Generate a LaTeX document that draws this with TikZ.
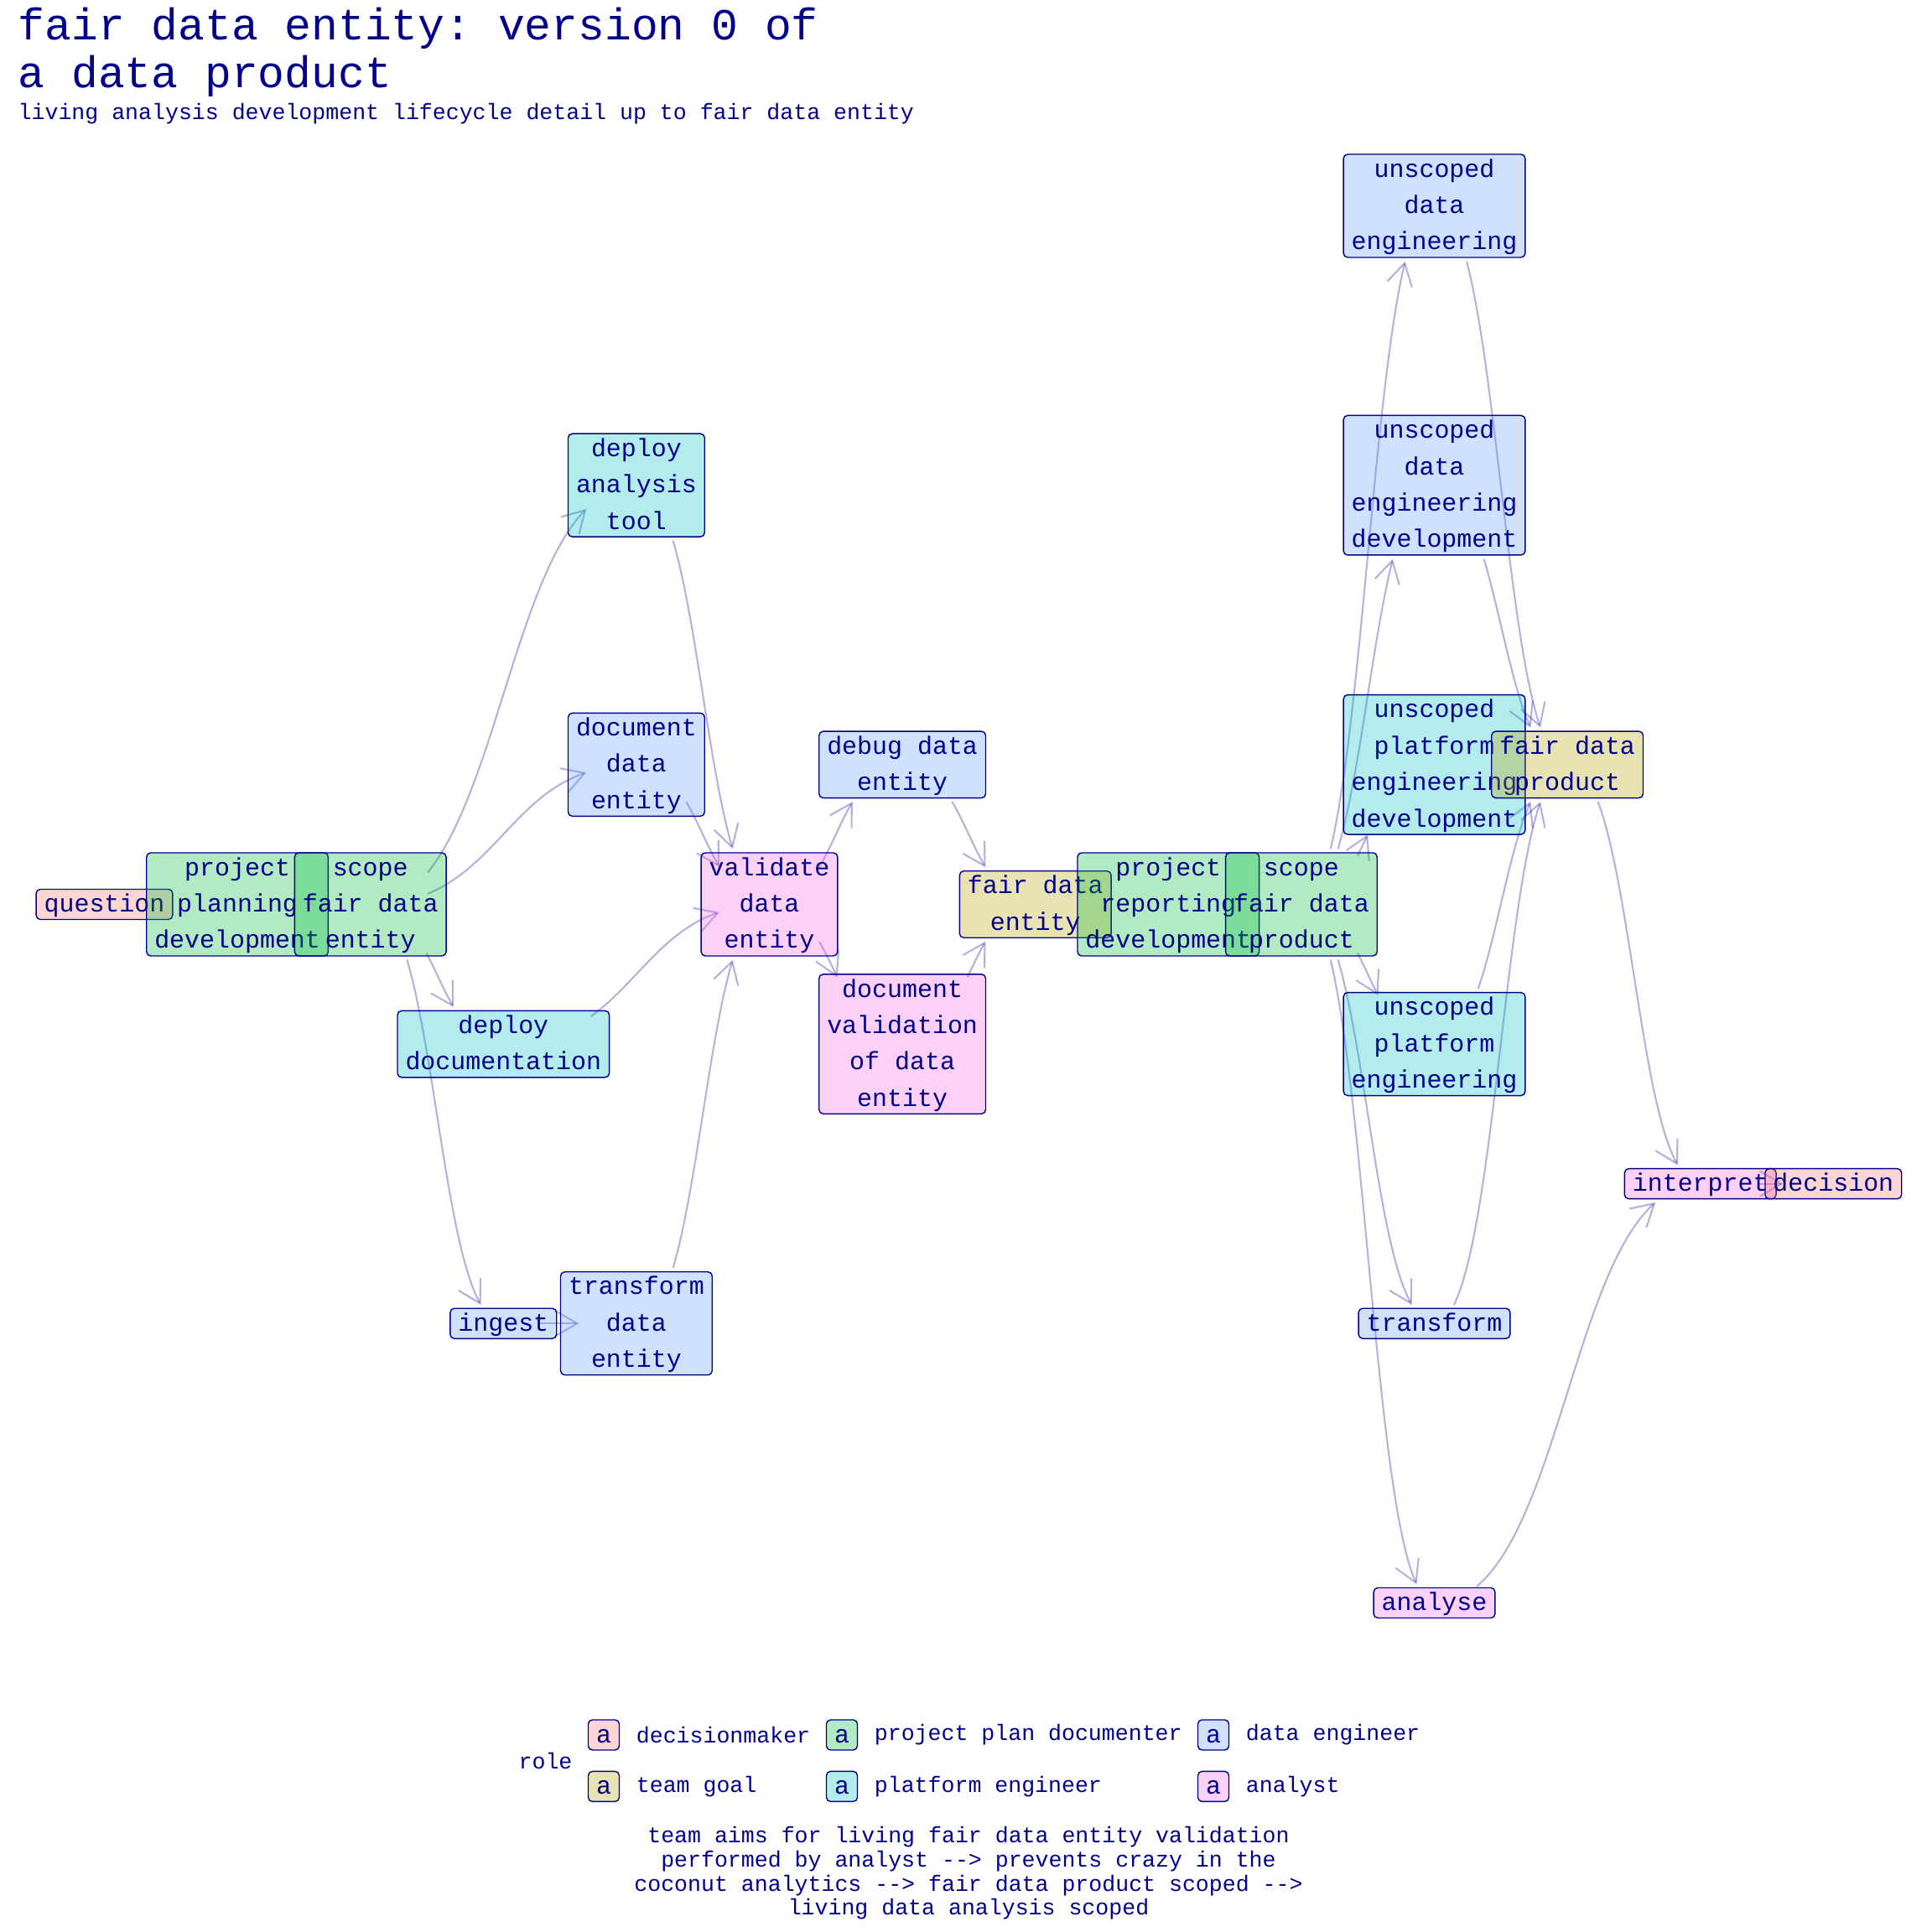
\documentclass[tikz,border=0pt]{standalone}
\usepackage{fontspec}
\setmonofont{Liberation Mono}
\usetikzlibrary{arrows.meta,positioning,calc}
\definecolor{navyink}{RGB}{0,0,139}
\definecolor{huered}{HTML}{F8766D}
\definecolor{hueolive}{HTML}{B79F00}
\definecolor{huegreen}{HTML}{00BA38}
\definecolor{huecyan}{HTML}{00BFC4}
\definecolor{hueblue}{HTML}{619CFF}
\definecolor{huepink}{HTML}{F564E3}
\pgfdeclarelayer{background}
\pgfsetlayers{background,main}

% struts for the first and the last line of a label
\newcommand\upst{\rule{0pt}{7.7pt}}
\newcommand\lowst{\rule[-2.55pt]{0pt}{2.55pt}}

% sigmoid edge between two node centres, kept from t=#3 to t=#4
\newcommand\sig[4]{%
  \draw[edge] let \p1=(#1), \p2=(#2), \n1={\x2-\x1}, \n2={\y2-\y1},
    \n3={#3}, \n4={#4}, \n5={(#4-#3)/3},
    \p3=({\x1+\n1*(1.5*\n3-1.5*\n3^2+\n3^3)},{\y1+\n2*\n3^2*(3-2*\n3)}),
    \p4=({\x1+\n1*(1.5*\n4-1.5*\n4^2+\n4^3)},{\y1+\n2*\n4^2*(3-2*\n4)})
  in (\p3) .. controls +({\n5*\n1*(1.5-3*\n3+3*\n3^2)},{\n5*\n2*6*\n3*(1-\n3)})
    and +({-\n5*\n1*(1.5-3*\n4+3*\n4^2)},{-\n5*\n2*6*\n4*(1-\n4)}) .. (\p4);}

\begin{document}
\begin{tikzpicture}[
    role/.style={draw=navyink, fill=#1, fill opacity=0.3, text opacity=1, text=navyink,
                 rounded corners=0.05cm, line width=0.4pt, inner xsep=0.095cm, inner ysep=0pt,
                 align=center, font=\ttfamily\fontsize{8.52}{12.35}\selectfont, minimum height=0.36cm},
    nl/.style={minimum height={0.36cm+(#1-1)*0.435cm}},
    decider/.style={role=huered},
    goal/.style={role=hueolive},
    planner/.style={role=huegreen},
    platform/.style={role=huecyan},
    dataeng/.style={role=hueblue},
    analyst/.style={role=huepink},
    edge/.style={draw=navyink, draw opacity=0.3, line width=0.6pt,
                 -{Straight Barb[length=0.26cm,width=0.3cm]}},
    titletext/.style={text=navyink, inner sep=0pt, font=\ttfamily\fontsize{15.08}{18}\selectfont},
    legtext/.style={text=navyink, inner sep=0pt, font=\ttfamily\fontsize{7.56}{8.17}\selectfont}
  ]
  \useasboundingbox (0,0) rectangle (23.04,23.04);

  % title
  \node[titletext, anchor=base west] (title) at (0.21,22.56) {fair data entity: version 0 of};
  \node[titletext, anchor=base west] (title2) at (0.21,21.99) {a data product};
  \node[legtext, anchor=base west] (subtitle) at (0.21,21.61) {living analysis development lifecycle detail up to fair data entity};

  % graph on a grid: x = column, y = row (downwards)
  \begin{scope}[shift={(1.245,12.255)}, x=1.586cm, y=-1.666cm]
    \node[decider, nl=1] (quest) at (0,0) {\upst question\lowst};
    \node[planner, nl=3] (ppdev) at (1,0) {\upst project\\planning\\development\lowst};
    \node[planner, nl=3] (scfde) at (2,0) {\upst scope\\fair data\\entity\lowst};
    \node[platform, nl=3] (depat) at (4,-3) {\upst deploy\\analysis\\tool\lowst};
    \node[dataeng, nl=3] (docde) at (4,-1) {\upst document\\data\\entity\lowst};
    \node[platform, nl=2] (depdoc) at (3,1) {\upst deploy\\documentation\lowst};
    \node[dataeng, nl=1] (ingest) at (3,3) {\upst ingest\lowst};
    \node[dataeng, nl=3] (trde) at (4,3) {\upst transform\\data\\entity\lowst};
    \node[analyst, nl=3] (valde) at (5,0) {\upst validate\\data\\entity\lowst};
    \node[dataeng, nl=2] (dbgde) at (6,-1) {\upst debug data\\entity\lowst};
    \node[analyst, nl=4] (docval) at (6,1) {\upst document\\validation\\of data\\entity\lowst};
    \node[goal, nl=2] (fde) at (7,0) {\upst fair data\\entity\lowst};
    \node[planner, nl=3] (prdev) at (8,0) {\upst project\\reporting\\development\lowst};
    \node[planner, nl=3] (scfdp) at (9,0) {\upst scope\\fair data\\product\lowst};
    \node[dataeng, nl=3] (ude) at (10,-5) {\upst unscoped\\data\\engineering\lowst};
    \node[dataeng, nl=4] (uded) at (10,-3) {\upst unscoped\\data\\engineering\\development\lowst};
    \node[platform, nl=4] (uped) at (10,-1) {\upst unscoped\\platform\\engineering\\development\lowst};
    \node[goal, nl=2] (fdp) at (11,-1) {\upst fair data\\product\lowst};
    \node[platform, nl=3] (upe) at (10,1) {\upst unscoped\\platform\\engineering\lowst};
    \node[dataeng, nl=1] (trans) at (10,3) {\upst transform\lowst};
    \node[analyst, nl=1] (analyse) at (10,5) {\upst analyse\lowst};
    \node[analyst, nl=1] (interp) at (12,2) {\upst interpret\lowst};
    \node[decider, nl=1] (decis) at (13,2) {\upst decision\lowst};
  \end{scope}

  % connectors
  \begin{pgfonlayer}{background}
    \sig{scfde}{depat}{0.1695}{0.856}
    \sig{scfde}{docde}{0.1695}{0.856}
    \sig{scfde}{depdoc}{0.397}{0.663}
    \sig{scfde}{ingest}{0.228}{0.873}
    \sig{ingest}{trde}{0.2136}{0.59}
    \sig{depat}{valde}{0.228}{0.772}
    \sig{docde}{valde}{0.339}{0.661}
    \sig{depdoc}{valde}{0.2855}{0.856}
    \sig{trde}{valde}{0.228}{0.772}
    \sig{valde}{dbgde}{0.339}{0.663}
    \sig{valde}{docval}{0.339}{0.515}
    \sig{dbgde}{fde}{0.337}{0.663}
    \sig{docval}{fde}{0.485}{0.663}
    \sig{scfdp}{ude}{0.173}{0.827}
    \sig{scfdp}{uded}{0.228}{0.733}
    \sig{scfdp}{uped}{0.397}{0.5}
    \sig{scfdp}{upe}{0.397}{0.603}
    \sig{scfdp}{trans}{0.228}{0.873}
    \sig{scfdp}{analyse}{0.173}{0.903}
    \sig{ude}{fdp}{0.195}{0.843}
    \sig{uded}{fdp}{0.337}{0.772}
    \sig{upe}{fdp}{0.2855}{0.772}
    \sig{trans}{fdp}{0.109}{0.843}
    \sig{fdp}{interp}{0.183}{0.873}
    \sig{analyse}{interp}{0.1193}{0.873}
    \sig{interp}{decis}{0.41}{0.661}
  \end{pgfonlayer}

  % legend
  \node[legtext] (roletitle) at (6.505,2.035) {role};
  \node[decider, nl=1] (keydm) at (7.20,2.35) {\upst a\lowst};
  \node[legtext, right=0.19cm of keydm] (labdm) {decisionmaker};
  \node[goal, nl=1, below=0.24cm of keydm] (keytg) {\upst a\lowst};
  \node[legtext, right=0.19cm of keytg] (labtg) {team goal};
  \node[planner, nl=1] (keypp) at (10.04,2.35) {\upst a\lowst};
  \node[legtext, right=0.19cm of keypp] (labpp) {project plan documenter};
  \node[platform, nl=1, below=0.24cm of keypp] (keype) {\upst a\lowst};
  \node[legtext, right=0.19cm of keype] (labpe) {platform engineer};
  \node[dataeng, nl=1] (keyde) at (14.47,2.35) {\upst a\lowst};
  \node[legtext, right=0.19cm of keyde] (labde) {data engineer};
  \node[analyst, nl=1, below=0.24cm of keyde] (keyan) {\upst a\lowst};
  \node[legtext, right=0.19cm of keyan] (laban) {analyst};

  % caption
  \node[legtext, align=center] (caption) at (11.55,0.70)
    {team aims for living fair data entity validation\\
     performed by analyst --> prevents crazy in the\\
     coconut analytics --> fair data product scoped -->\\
     living data analysis scoped};
\end{tikzpicture}
\end{document}
